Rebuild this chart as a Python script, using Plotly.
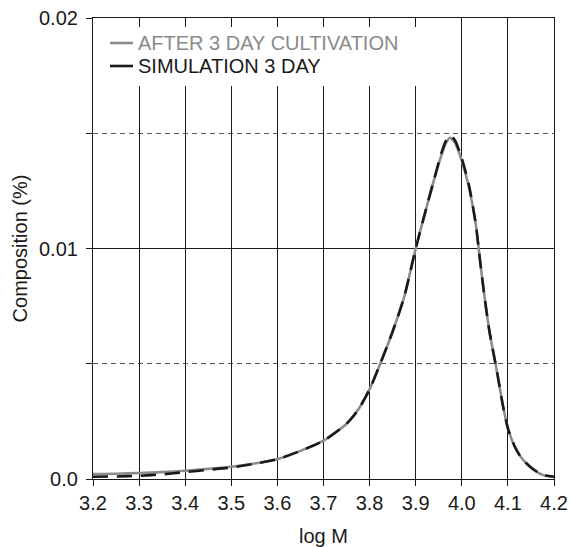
import plotly.graph_objects as go

log_m = [3.2, 3.25, 3.3, 3.35, 3.4, 3.45, 3.5, 3.55, 3.6, 3.65, 3.7, 3.75, 3.775, 3.8,
         3.825, 3.85, 3.875, 3.9, 3.925, 3.94, 3.955, 3.965, 3.974, 3.985, 4.0, 4.015,
         4.03, 4.04, 4.05, 4.06, 4.075, 4.09, 4.1, 4.115, 4.13, 4.15, 4.175, 4.2]
cultivation = [0.00022, 0.00023, 0.00026, 0.0003, 0.00036, 0.00044, 0.00053, 0.00067,
               0.00086, 0.00122, 0.00166, 0.0024, 0.0030, 0.0039,
               0.0051, 0.0064, 0.0079, 0.0100, 0.0119, 0.0130, 0.0140, 0.01455, 0.0148,
               0.0146, 0.0138, 0.0127,
               0.0111, 0.0094, 0.0078, 0.0064, 0.0048, 0.0031, 0.0022, 0.0014, 0.0009,
               0.0005, 0.00018, 0.0001]
simulation = [0.0001, 0.00011, 0.00014, 0.0002, 0.0003, 0.0004, 0.0005, 0.00066,
              0.00086, 0.00122, 0.00166, 0.0024, 0.0030, 0.0039,
              0.0051, 0.0064, 0.0079, 0.0100, 0.0119, 0.0130, 0.0141, 0.01465, 0.0149,
              0.0147, 0.0139, 0.0128,
              0.0111, 0.0094, 0.0078, 0.0064, 0.0048, 0.0031, 0.0022, 0.0014, 0.0009,
              0.0005, 0.00018, 0.0001]
series_names = ["AFTER 3 DAY CULTIVATION", "SIMULATION 3 DAY"]
x_ticks = [3.2, 3.3, 3.4, 3.5, 3.6, 3.7, 3.8, 3.9, 4.0, 4.1, 4.2]
x_labels = ["3.2", "3.3", "3.4", "3.5", "3.6", "3.7", "3.8", "3.9", "4.0", "4.1", "4.2"]
y_ticks = [0.0, 0.01, 0.02]
y_labels = ["0.0", "0.01", "0.02"]

FONT = "Liberation Sans, Arial, sans-serif"
GRAY = "#8c8c8c"
BLACK = "#1a1a1a"

fig = go.Figure()
fig.add_trace(go.Scatter(
    x=log_m, y=cultivation, mode="lines", name=series_names[0],
    line=dict(color=GRAY, width=2.6, shape="spline", smoothing=0.7),
))
fig.add_trace(go.Scatter(
    x=log_m, y=simulation, mode="lines", name=series_names[1],
    line=dict(color=BLACK, width=2.6, shape="spline", smoothing=0.7, dash="15px,9px"),
))

# hand-drawn legend (paper coordinates)
W, H = 461.0, 461.0
def px(xp):
    return (xp - 93) / W
def py(yp):
    return (479 - yp) / H

shapes = [
    dict(type="rect", xref="paper", yref="paper", layer="above",
         x0=px(95), x1=px(425), y0=py(86), y1=py(27),
         fillcolor="white", line=dict(width=0)),
]
annotations = []
for name, col, ypix, tcol in [(series_names[0], GRAY, 43, "#8a8a8a"),
                              (series_names[1], BLACK, 66, BLACK)]:
    shapes.append(dict(type="line", xref="paper", yref="paper", layer="above",
                       x0=px(110), x1=px(133), y0=py(ypix), y1=py(ypix),
                       line=dict(color=col, width=2.6)))
    annotations.append(dict(xref="paper", yref="paper", x=px(136), y=py(ypix),
                            xanchor="left", yanchor="middle", showarrow=False,
                            text=name, font=dict(family=FONT, size=20, color=tcol)))

fig.update_layout(
    width=569, height=547,
    margin=dict(l=93, r=15, t=18, b=68),
    plot_bgcolor="white", paper_bgcolor="white",
    font=dict(family=FONT, size=20, color=BLACK),
    showlegend=False,
    shapes=shapes, annotations=annotations,
    xaxis=dict(
        range=[3.2, 4.2], tickvals=x_ticks, ticktext=x_labels, automargin=False,
        showline=True, mirror=True, linecolor=BLACK, linewidth=1.2,
        ticks="outside", ticklen=6, tickcolor=BLACK, tickwidth=1,
        showgrid=True, gridcolor=BLACK, gridwidth=1.3, zeroline=False,
        tickfont=dict(size=20),
        title=dict(text="log M", font=dict(size=20), standoff=15),
    ),
    yaxis=dict(
        range=[0, 0.02], tickvals=y_ticks, ticktext=y_labels, automargin=False,
        showline=True, mirror=True, linecolor=BLACK, linewidth=1.2,
        ticks="outside", ticklen=6, tickcolor=BLACK, tickwidth=1,
        showgrid=True, gridcolor=BLACK, gridwidth=1, zeroline=False,
        tickfont=dict(size=20), ticklabelstandoff=4,
        minor=dict(dtick=0.005, tick0=0, ticks="outside", ticklen=6, tickcolor=BLACK,
                   showgrid=True, gridcolor="#555555", griddash="5px,4px", gridwidth=1),
        title=dict(text="Composition (%)", font=dict(size=20), standoff=5),
    ),
)

fig.write_html("out.html")
